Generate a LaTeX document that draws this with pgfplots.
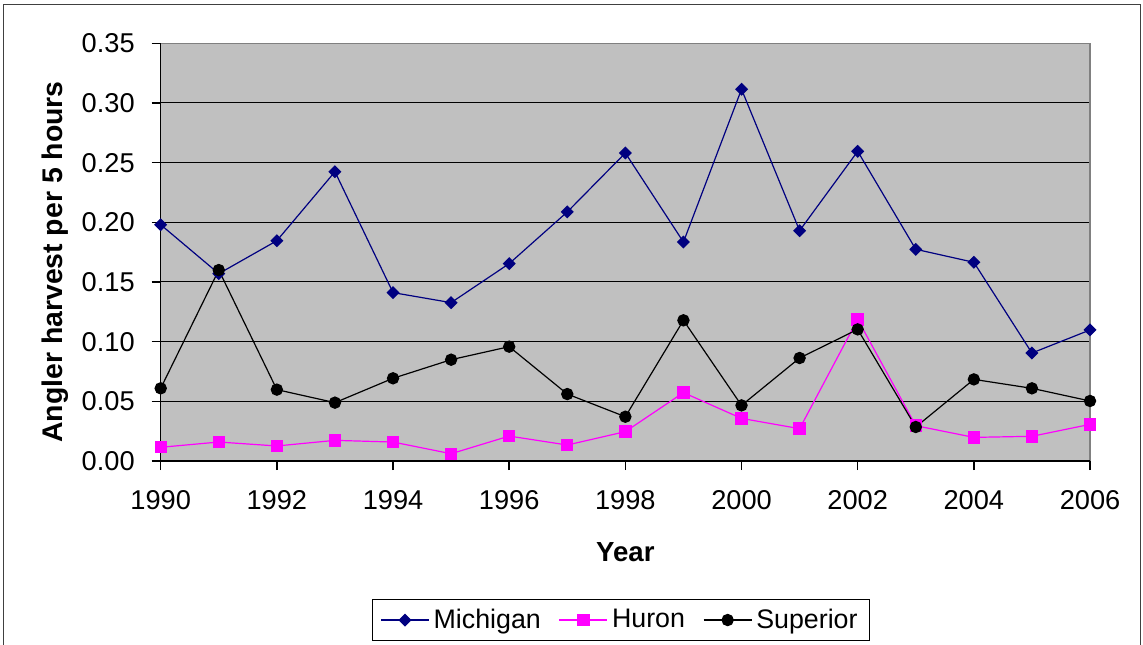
\documentclass[border=0pt]{standalone}
\usepackage{pgfplots}
\pgfplotsset{compat=1.18}
\usepackage{fontspec}
\setmainfont{Liberation Sans}
\definecolor{michigan}{RGB}{0,0,128}
\definecolor{huron}{RGB}{255,0,255}
\definecolor{plotbg}{RGB}{192,192,192}
\definecolor{framegray}{RGB}{128,128,128}
\pgfplotstableread{
year michigan huron superior
1990 0.198 0.0115 0.0609
1991 0.157 0.0159 0.1600
1992 0.1846 0.0126 0.0598
1993 0.2424 0.0173 0.0489
1994 0.1411 0.0159 0.0693
1995 0.1327 0.0061 0.0849
1996 0.1654 0.0209 0.0958
1997 0.2087 0.0134 0.0561
1998 0.2581 0.0246 0.0371
1999 0.1835 0.0573 0.1179
2000 0.3115 0.0357 0.0466
2001 0.1930 0.0271 0.0863
2002 0.2595 0.1187 0.1103
2003 0.1774 0.0296 0.0285
2004 0.1665 0.0198 0.0684
2005 0.0905 0.0207 0.0609
2006 0.1098 0.0307 0.0503
}\datatable
\begin{document}
\begin{tikzpicture}
\useasboundingbox (0pt,0pt) rectangle (571.5pt,322pt);
\draw[black!75, line width=0.6pt] (1.85pt,319.65pt) rectangle (570.35pt,-3pt);
\begin{axis}[
  at={(80.35pt,91.5pt)}, anchor=south west,
  scale only axis, width=464.65pt, height=208.85pt,
  xmin=1990, xmax=2006, ymin=0, ymax=0.35,
  clip=false,
  xtick={1990,1992,...,2006},
  ytick={0,0.05,...,0.351},
  xtick pos=bottom, ytick pos=left,
  tick align=outside, major tick length=4.5pt,
  major tick style={black, line width=0.7pt},
  axis line style={framegray, line width=0.6pt},
  axis background/.style={fill=plotbg},
  ymajorgrids, grid style={black, line width=0.5pt},
  /pgf/number format/assume math mode=true,
  ticklabel style={font=\fontsize{13.6}{16}\selectfont},
  x tick label style={/pgf/number format/1000 sep={}, yshift=-6.5pt},
  y tick label style={/pgf/number format/.cd, fixed, fixed zerofill, precision=2, /tikz/xshift=-5pt},
  xlabel={\bfseries Year},
  ylabel={\bfseries Angler harvest per 5 hours},
  xlabel style={font=\fontsize{13.8}{16}\selectfont, at={(rel axis cs:0.5,0)}, anchor=base, yshift=-50.35pt},
  ylabel style={font=\fontsize{14.2}{16}\selectfont, at={(rel axis cs:-0.1062,0.4764)}, anchor=base, rotate=0},
  legend columns=3,
  legend style={at={(rel axis cs:0.4953,-0.3807)}, anchor=center, draw=black, fill=white,
    font=\fontsize{13.4}{16}\selectfont, inner xsep=4pt, inner ysep=2.5pt,
    /tikz/every even column/.append style={column sep=7pt}},
  legend image code/.code={\draw[mark repeat=2,mark phase=2] plot coordinates {(0pt,0pt) (12pt,0pt) (24pt,0pt)};},
]
\draw[black, line width=0.6pt] (rel axis cs:0,1) -- (rel axis cs:0,0) -- (rel axis cs:1,0);
\foreach \yr in {1990,1992,...,2006} {\edef\temp{\noexpand\draw[black, line width=0.6pt] (axis cs:\yr,0) -- ++(0pt,-4.5pt);}\temp}
\foreach \yv in {0,0.05,0.1,0.15,0.2,0.25,0.3,0.35} {\edef\temp{\noexpand\draw[black, line width=0.6pt] (axis cs:1990,\yv) -- ++(-4.5pt,0pt);}\temp}
\addplot[michigan, line width=0.6pt, mark=square*, mark size=2.0pt, mark options={fill=michigan, rotate=45}] table[x=year,y=michigan] {\datatable};
\addplot[huron, line width=0.6pt, mark=square*, mark size=2.8pt, mark options={fill=huron}] table[x=year,y=huron] {\datatable};
\addplot[black, line width=0.6pt, mark=*, mark size=2.8pt, mark options={fill=black}] table[x=year,y=superior] {\datatable};
\legend{Michigan,Huron,Superior}
\end{axis}
\end{tikzpicture}
\end{document}
